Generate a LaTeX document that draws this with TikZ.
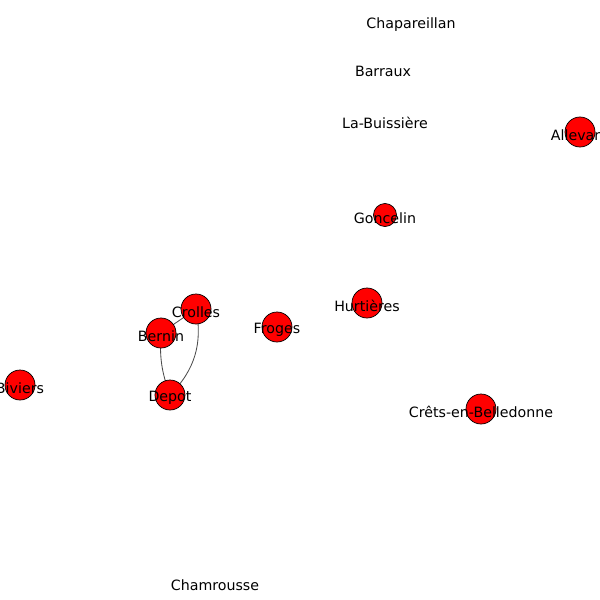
\documentclass[tikz,border=0pt]{standalone}
\usepackage{fontspec}
\setmainfont{DejaVu Sans}
\usetikzlibrary{backgrounds}

\tikzset{
    town/.style={circle, draw=black, fill=red, line width=0.5pt, minimum size=0.75cm, inner sep=0pt},
    small town/.style={town, minimum size=0.575cm},
    road/.style={draw=black!70, line width=0.6pt},
    placename/.style={font=\fontsize{10.1}{12}\selectfont, text=black, inner sep=0pt}
}

\begin{document}
\begin{tikzpicture}[x=0.025cm, y=-0.025cm]
    \clip (0,0) rectangle (600,600);
    % places without a marker
    \node[placename] (chapareillan) at (411,25) {Chapareillan};
    \node[placename] (barraux) at (383,71) {Barraux};
    \node[placename] (labuissiere) at (385,123) {La-Buissière};
    \node[placename] (chamrousse) at (215,585) {Chamrousse};
    % places with a marker
    \node[town] (allevard) at (580,132) {};
    \node[small town] (goncelin) at (385,215) {};
    \node[town] (hurtieres) at (367,303) {};
    \node[town] (froges) at (277,327) {};
    \node[town] (crolles) at (196,309) {};
    \node[town] (bernin) at (161,333) {};
    \node[town] (depot) at (170,395) {};
    \node[town] (biviers) at (20,385) {};
    \node[town] (crets) at (481,409) {};
    \foreach \n/\t in {allevard/Allevard, goncelin/Goncelin, hurtieres/Hurtières,
        froges/Froges, crolles/Crolles, bernin/Bernin, depot/Depot,
        biviers/Biviers, crets/Crêts-en-Belledonne}
        \node[placename] at ([yshift=-3*0.025cm]\n.center) {\t};
    % roads
    \begin{scope}[on background layer]
        \draw[road] (crolles.center) -- (bernin.center);
        \draw[road] (bernin.center) to[bend right=12] (depot.center);
        \draw[road] (crolles.center) to[bend left=28] (depot.center);
    \end{scope}
\end{tikzpicture}
\end{document}
